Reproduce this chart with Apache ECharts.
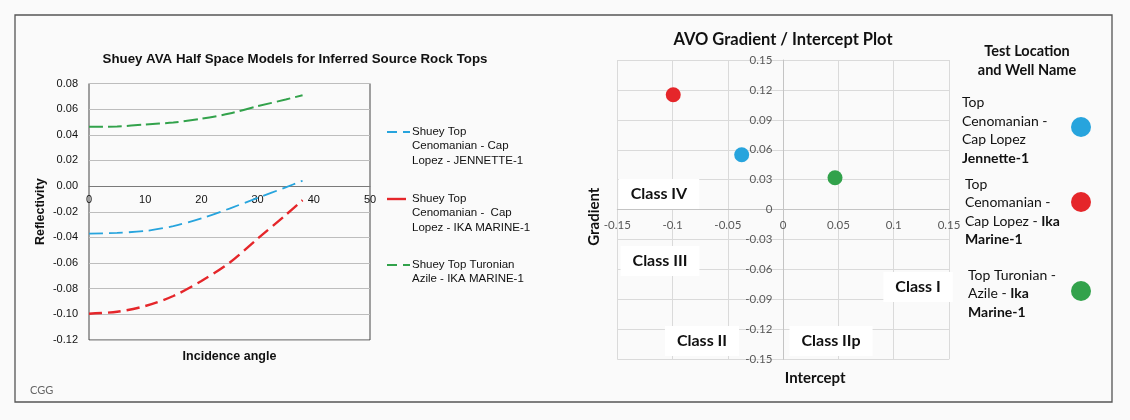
<!DOCTYPE html>
<html>
<head>
<meta charset="utf-8">
<script src="https://cdn.jsdelivr.net/npm/echarts@6/dist/echarts.min.js"></script>
<style>
html,body{margin:0;padding:0;background:#fafafa;}
#c{width:1130px;height:420px;}
</style>
</head>
<body>
<div id="c"></div>
<script>
// ---- Left chart data (Shuey AVA half space models) ----
const angles = [0, 5, 10, 15, 20, 25, 30, 35, 38];
const reflJennette = [-0.0371, -0.0364, -0.0350, -0.0312, -0.0252, -0.0175, -0.0092, -0.0010, 0.0042];
const reflIkaCenomanian = [-0.0995, -0.0980, -0.0935, -0.0857, -0.0740, -0.0598, -0.0410, -0.0225, -0.0110];
const reflIkaTuronian = [0.0462, 0.0465, 0.0480, 0.0496, 0.0525, 0.0566, 0.0623, 0.0675, 0.0709];
const leftNames = [
  'Shuey Top\nCenomanian - Cap\nLopez - JENNETTE-1',
  'Shuey Top\nCenomanian -  Cap\nLopez - IKA MARINE-1',
  'Shuey Top Turonian\nAzile - IKA MARINE-1'
];
// ---- Right chart data (AVO gradient / intercept) ----
const wellNames = ['Jennette-1 (Top Cenomanian)', 'Ika Marine-1 (Top Cenomanian)', 'Ika Marine-1 (Top Turonian)'];
const wellLabels = [
  'Top\nCenomanian -\nCap Lopez\n{b|Jennette-1}',
  'Top\nCenomanian -\nCap Lopez - {b|Ika}\n{b|Marine-1}',
  'Top Turonian -\nAzile - {b|Ika}\n{b|Marine-1}'
];
const intercepts = [-0.0375, -0.0994, 0.0469];
const gradients = [0.0551, 0.1152, 0.0320];
const classNames = ['Class IV', 'Class III', 'Class I', 'Class II', 'Class IIp'];
const classX = [-0.1123, -0.1114, 0.1220, -0.0734, 0.0433];
const classY = [0.0157, -0.0515, -0.0775, -0.1317, -0.1317];

const colors = ['#27a4dd', '#e5262a', '#32a24b'];
const leftData = [reflJennette, reflIkaCenomanian, reflIkaTuronian];
const dashes = [[14, 6], [13, 6], [14, 5]];
const widths = [1.8, 2.4, 2.0];

const AR = 'Liberation Sans, Arial, sans-serif';
const CA = 'Lato, sans-serif';

const fmtR = v => String(+v.toFixed(2));

const leftSeries = leftData.map((arr, i) => ({
  name: leftNames[i],
  type: 'line',
  xAxisIndex: 0, yAxisIndex: 0,
  smooth: 0.3,
  symbol: 'none',
  data: angles.map((a, k) => [a, arr[k]]),
  lineStyle: { color: colors[i], width: widths[i], type: dashes[i] },
  itemStyle: { color: colors[i] },
  z: 3
}));

const rightSeries = wellNames.map((n, i) => ({
  name: n,
  type: 'scatter',
  xAxisIndex: 1, yAxisIndex: 1,
  symbolSize: 15,
  data: [[intercepts[i], gradients[i]]],
  itemStyle: { color: colors[i], opacity: 1 },
  z: 5
}));

const classSeries = {
  name: 'classes',
  type: 'scatter',
  xAxisIndex: 1, yAxisIndex: 1,
  symbol: 'circle',
  symbolSize: 1,
  itemStyle: { color: '#ffffff', opacity: 1 },
  silent: true,
  data: classNames.map((c, i) => ({ value: [classX[i], classY[i]], name: c })),
  label: {
    show: true, position: 'inside', formatter: p => p.name, opacity: 1,
    fontFamily: CA, fontWeight: 'bold', fontSize: 16, color: '#111111',
    textBorderWidth: 0, textShadowBlur: 0,
    backgroundColor: '#ffffff', padding: [7, 12]
  },
  labelLayout: { hideOverlap: false },
  z: 4
};

const legendTops = [132, 199, 265];
const graphics = [
  { type: 'rect', shape: { x: 15, y: 15, width: 1097, height: 387 }, style: { fill: 'none', stroke: '#555', lineWidth: 1.3 }, z: 10 },
  { type: 'text', x: 30, y: 385, style: { text: 'CGG', fontFamily: CA, fontSize: 11, fill: '#666' } },
  { type: 'text', x: 1027, y: 42, style: { text: 'Test Location\nand Well Name', fontFamily: CA, fontWeight: 'bold', fontSize: 14.5, lineHeight: 19, fill: '#111', align: 'center' } }
];
leftNames.forEach((n, i) => {
  graphics.push({ type: 'line', shape: { x1: 387, y1: legendTops[i], x2: 410, y2: legendTops[i] },
    style: { stroke: colors[i], lineWidth: widths[i], lineDash: i === 1 ? [19, 4] : [10, 6] } });
  graphics.push({ type: 'text', x: 412, y: legendTops[i] - 7.5,
    style: { text: n, fontFamily: AR, fontSize: 11.5, lineHeight: 14.5, fill: '#111' } });
});
const rTextX = [962, 965, 968];
const rTextY = [93.5, 175, 266];
const rCircY = [127, 202, 291];
wellLabels.forEach((t, i) => {
  graphics.push({ type: 'text', x: rTextX[i], y: rTextY[i],
    style: { text: t, fontFamily: CA, fontSize: 14, lineHeight: 18.5, fill: '#111',
      rich: { b: { fontFamily: CA, fontSize: 14, lineHeight: 18.5, fontWeight: 'bold', fill: '#111' } } } });
  graphics.push({ type: 'circle', shape: { cx: 1081, cy: rCircY[i], r: 10 }, style: { fill: colors[i] } });
});

const option = {
  backgroundColor: '#fafafa',
  animation: false,
  title: [
    { text: 'Shuey AVA Half Space Models for Inferred Source Rock Tops', left: 295, top: 53, textAlign: 'center', padding: 0,
      textStyle: { fontFamily: AR, fontSize: 13.3, fontWeight: 'bold', color: '#111' } },
    { text: 'AVO Gradient / Intercept Plot', left: 783, top: 31, textAlign: 'center', padding: 0,
      textStyle: { fontFamily: CA, fontSize: 16.5, fontWeight: 'bold', color: '#111' } }
  ],
  grid: [
    { left: 89, top: 83.5, width: 281, height: 256.5, show: true, borderColor: '#444', borderWidth: 1, backgroundColor: 'transparent', outerBoundsMode: 'none', containLabel: false },
    { left: 617.3, top: 60, width: 331.7, height: 299.3, show: false, outerBoundsMode: 'none', containLabel: false }
  ],
  xAxis: [
    { type: 'value', gridIndex: 0, min: 0, max: 50, interval: 10, position: 'bottom', offset: -153.3,
      axisLine: { onZero: false, lineStyle: { color: '#7a7a7a', width: 1 } },
      axisTick: { show: false }, splitLine: { show: false },
      axisLabel: { fontFamily: AR, fontSize: 11, color: '#111', margin: 8, showMinLabel: true, showMaxLabel: true },
      name: 'Incidence angle', nameLocation: 'middle', nameGap: 163,
      nameTextStyle: { fontFamily: AR, fontSize: 12.5, fontWeight: 'bold', color: '#111' } },
    { type: 'value', gridIndex: 1, min: -0.15, max: 0.15, interval: 0.05, position: 'bottom', offset: -150,
      axisLine: { onZero: false, lineStyle: { color: '#c4c4c4', width: 1 } },
      axisTick: { show: false }, splitLine: { show: true, lineStyle: { color: '#dadada', width: 1 } },
      axisLabel: { fontFamily: CA, fontSize: 11.5, color: '#595959', margin: 10, formatter: fmtR, showMinLabel: true, showMaxLabel: true },
      name: 'Intercept', nameLocation: 'middle', nameGap: 161,
      nameTextStyle: { fontFamily: CA, fontSize: 15, fontWeight: 'bold', color: '#111', padding: [0, 0, 0, 64] } }
  ],
  yAxis: [
    { type: 'value', gridIndex: 0, min: -0.12, max: 0.08, interval: 0.02,
      axisLine: { show: false, onZero: false }, axisTick: { show: false },
      splitLine: { show: true, lineStyle: { color: '#bdbdbd', width: 1 } },
      axisLabel: { fontFamily: AR, fontSize: 11, color: '#111', margin: 11, formatter: v => v.toFixed(2), showMinLabel: true, showMaxLabel: true },
      name: 'Reflectivity', nameLocation: 'middle', nameGap: 42,
      nameTextStyle: { fontFamily: AR, fontSize: 12.5, fontWeight: 'bold', color: '#111' } },
    { type: 'value', gridIndex: 1, min: -0.15, max: 0.15, interval: 0.03, position: 'left', offset: -166,
      axisLine: { onZero: false, lineStyle: { color: '#c4c4c4', width: 1 } },
      axisTick: { show: false }, splitLine: { show: true, lineStyle: { color: '#dadada', width: 1 } },
      axisLabel: { fontFamily: CA, fontSize: 11.5, color: '#595959', margin: 11, formatter: fmtR, showMinLabel: true, showMaxLabel: true },
      name: 'Gradient', nameLocation: 'middle', nameGap: 182,
      nameTextStyle: { fontFamily: CA, fontSize: 15, fontWeight: 'bold', color: '#111', padding: [0, 14, 0, 0] } }
  ],
  series: [...leftSeries, ...rightSeries, classSeries],
  graphic: graphics
};

const chart = echarts.init(document.getElementById('c'), null, { renderer: 'canvas' });
chart.setOption(option);
</script>
</body>
</html>
